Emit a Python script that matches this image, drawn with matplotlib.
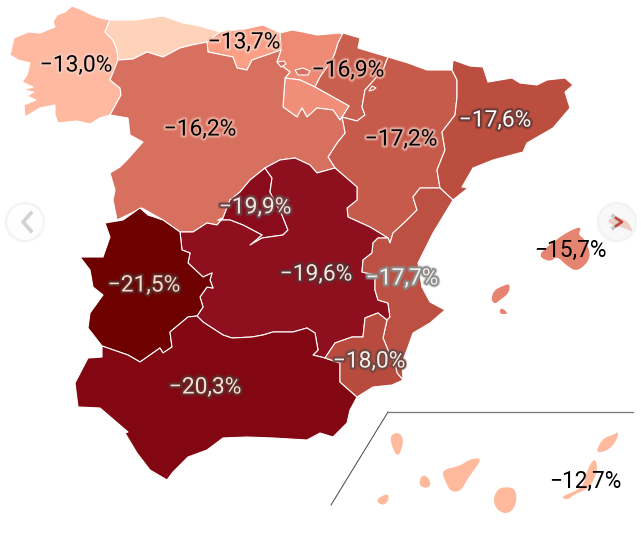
import matplotlib
matplotlib.use("Agg")
import matplotlib.patheffects as pe
import matplotlib.pyplot as plt
from matplotlib.patches import Circle, Polygon

plt.rcParams["font.family"] = ["Roboto", "DejaVu Sans"]

# region values (Asturias has no label on the map)
REGIONS = ["Galicia", "Asturias", "Cantabria", "Pais Vasco", "Navarra", "La Rioja", "Aragon",
           "Cataluna", "Castilla y Leon", "Madrid", "Castilla-La Mancha", "Extremadura",
           "Andalucia", "C. Valenciana", "Murcia", "Baleares", "Canarias"]
VALUES = [-13.0, None, -13.7, -16.9, -16.9, -14.5, -17.2,
          -17.6, -16.2, -19.9, -19.6, -21.5,
          -20.3, -17.7, -18.0, -15.7, -12.7]
COLORS = ["#FFB9A0", "#FFD2BA", "#FA9E86", "#EE8A74", "#C9604F", "#F08E7A", "#C65A4B",
          "#BC4E40", "#D87060", "#8A0C1C", "#8E101E", "#6E0000",
          "#830713", "#BC5042", "#B84B3E", "#E58571", "#FFBA9E"]

SHAPES = {
    "Galicia": [[(72, 6), (80, 9), (90, 14), (100, 18), (110, 20), (105, 32), (113, 40), (117, 50), (118, 60),
                 (110, 80), (120, 88), (121, 95), (110, 115), (100, 118), (90, 124), (77, 121), (58, 123), (55, 115),
                 (55, 105), (40, 108), (25, 117), (24, 105), (36, 100), (27, 96), (34, 92), (23, 90), (33, 87),
                 (22, 82), (27, 75), (30, 63), (18, 60), (10, 55), (14, 38), (28, 32), (40, 33), (55, 27), (53, 22),
                 (57, 15), (65, 12)]],
    "Asturias": [[(110, 20), (135, 20), (163, 16), (183, 23), (200, 26), (220, 32), (207, 42), (192, 45), (180, 48),
                  (163, 57), (147, 52), (133, 59), (118, 60), (117, 50), (113, 40), (105, 32)]],
    "Cantabria": [[(220, 32), (245, 29), (263, 25), (280, 33), (281, 50), (252, 60), (247, 70), (237, 68), (233, 57),
                   (208, 52), (207, 42)]],
    "Pais Vasco": [[(280, 33), (292, 30), (303, 32), (317, 35), (340, 33), (343, 35), (338, 43), (335, 53), (332, 60),
                    (320, 77), (315, 87), (300, 80), (285, 78), (290, 72), (277, 62), (281, 50)]],
    "Navarra": [[(343, 33), (360, 38), (358, 48), (388, 57), (383, 70), (365, 90), (362, 107), (365, 115), (357, 121),
                 (342, 117), (349, 106), (315, 87), (320, 77), (332, 60), (335, 53), (338, 43)]],
    "La Rioja": [[(285, 78), (300, 80), (315, 87), (349, 106), (340, 120), (333, 110), (317, 108), (307, 117),
                  (302, 108), (297, 117), (283, 107)]],
    "Aragon": [[(388, 57), (408, 63), (427, 70), (452, 70), (457, 80), (457, 97), (455, 115), (442, 132), (445, 150),
                (437, 170), (440, 188), (420, 188), (413, 197), (417, 210), (405, 222), (393, 233), (390, 243),
                (388, 238), (370, 227), (348, 217), (347, 208), (357, 200), (357, 187), (335, 168), (328, 157),
                (337, 143), (345, 133), (342, 117), (357, 121), (365, 115), (362, 107), (365, 90), (383, 70)],
               [(369, 91), (372, 86), (376, 88), (373, 90)]],
    "Cataluna": [[(453, 60), (470, 66), (483, 67), (488, 82), (512, 78), (520, 83), (537, 85), (547, 80), (565, 78),
                  (573, 85), (565, 92), (570, 108), (553, 128), (527, 143), (523, 152), (493, 160), (473, 168),
                  (462, 187), (468, 188), (453, 200), (440, 188), (437, 170), (445, 150), (442, 132), (455, 115),
                  (457, 97), (457, 80), (452, 70)]],
    "Castilla y Leon": [[(118, 60), (133, 59), (147, 52), (163, 57), (180, 48), (192, 45), (207, 42), (208, 52),
                         (233, 57), (237, 68), (247, 70), (252, 60), (281, 50), (277, 62), (290, 72), (285, 78),
                         (283, 107), (297, 117), (302, 108), (307, 117), (317, 108), (333, 110), (340, 120), (342, 117),
                         (345, 133), (337, 143), (328, 157), (335, 168), (317, 173), (310, 165), (295, 158), (280, 160),
                         (265, 168), (250, 180), (240, 192), (230, 200), (223, 218), (217, 225), (207, 223), (193, 232),
                         (180, 232), (163, 220), (142, 208), (117, 220), (113, 200), (115, 190), (110, 173), (120, 167),
                         (127, 160), (143, 142), (130, 135), (128, 118), (110, 115), (121, 95), (120, 88), (110, 80)],
                        [(277, 62), (284, 61), (286, 64), (281, 67)],
                        [(295, 70), (303, 68), (310, 71), (308, 75), (298, 75)]],
    "Madrid": [[(265, 168), (272, 178), (270, 192), (282, 215), (288, 230), (283, 235), (262, 238), (250, 245),
                (262, 235), (243, 225), (230, 220), (218, 220), (223, 218), (230, 200), (240, 192), (250, 180)]],
    "Castilla-La Mancha": [[(265, 168), (280, 160), (295, 158), (310, 165), (317, 173), (335, 168), (357, 187),
                            (357, 200), (347, 208), (348, 217), (370, 227), (388, 238), (378, 238), (373, 243),
                            (372, 253), (363, 260), (362, 272), (375, 275), (375, 290), (378, 300), (388, 303),
                            (390, 317), (387, 320), (378, 313), (365, 318), (363, 337), (352, 337), (335, 343),
                            (325, 358), (313, 355), (318, 350), (315, 333), (307, 328), (293, 332), (273, 332),
                            (263, 335), (252, 337), (232, 338), (223, 335), (203, 322), (197, 316), (203, 307),
                            (200, 297), (207, 287), (213, 288), (210, 280), (212, 273), (203, 277), (188, 263),
                            (190, 253), (182, 250), (180, 232), (193, 232), (207, 223), (217, 225), (223, 218),
                            (218, 220), (230, 220), (243, 225), (262, 235), (250, 245), (262, 238), (283, 235),
                            (288, 230), (282, 215), (270, 192), (272, 178)]],
    "Extremadura": [[(140, 208), (148, 215), (163, 220), (180, 232), (182, 250), (190, 253), (188, 263), (203, 277),
                     (212, 273), (210, 280), (213, 288), (207, 287), (200, 297), (203, 307), (197, 316), (188, 317),
                     (170, 332), (172, 347), (163, 353), (160, 348), (140, 362), (128, 355), (102, 346), (88, 328),
                     (90, 313), (103, 295), (93, 287), (90, 270), (80, 257), (103, 257), (110, 237), (105, 223),
                     (123, 220)]],
    "Andalucia": [[(197, 316), (203, 322), (223, 335), (232, 338), (252, 337), (263, 335), (273, 332), (293, 332),
                   (307, 328), (315, 333), (318, 350), (313, 355), (325, 358), (340, 363), (340, 382), (357, 397),
                   (350, 410), (347, 423), (333, 437), (320, 433), (307, 440), (273, 438), (247, 437), (223, 438),
                   (207, 450), (188, 457), (173, 472), (167, 480), (150, 470), (137, 453), (125, 433), (128, 432),
                   (100, 408), (78, 407), (75, 383), (88, 358), (102, 357), (102, 346), (128, 355), (140, 362),
                   (160, 348), (163, 353), (172, 347), (170, 332), (188, 317)]],
    "C. Valenciana": [[(453, 200), (433, 233), (418, 263), (422, 287), (430, 302), (445, 310), (430, 323), (413, 333),
                       (408, 347), (402, 363), (403, 380), (397, 373), (395, 363), (388, 350), (383, 338), (387, 320),
                       (390, 317), (388, 303), (378, 300), (375, 290), (375, 275), (362, 272), (363, 260), (372, 253),
                       (373, 243), (378, 238), (388, 238), (390, 243), (393, 233), (405, 222), (417, 210), (413, 197),
                       (420, 188), (440, 188)]],
    "Murcia": [[(325, 358), (335, 343), (352, 337), (363, 337), (365, 318), (378, 313), (387, 320), (383, 338),
                (388, 350), (395, 363), (397, 373), (403, 380), (392, 385), (373, 387), (357, 397), (340, 382),
                (340, 363)]],
    "Baleares": [[(538, 256), (548, 246), (567, 232), (582, 226), (578, 235), (584, 238), (592, 257), (578, 272),
                  (567, 266), (557, 256), (550, 262)],
                 [(491, 300), (494, 290), (505, 285), (510, 284), (509, 293), (500, 300), (495, 304)],
                 [(499, 314), (501, 307), (509, 314)],
                 [(607, 220), (615, 217), (627, 220), (634, 233), (625, 228), (612, 225)]],
    "Canarias": [[(390, 435), (400, 432), (404, 442), (398, 458), (392, 447)],
                 [(375, 500), (388, 493), (389, 500), (383, 506)],
                 [(419, 482), (422, 475), (428, 477), (431, 484), (428, 488), (421, 487)],
                 [(441, 470), (460, 466), (470, 459), (483, 458), (468, 478), (461, 491), (451, 492), (446, 483)],
                 [(493, 500), (497, 490), (503, 487), (515, 488), (517, 500), (513, 510), (506, 514), (497, 510)],
                 [(560, 497), (583, 488), (587, 470), (595, 457), (598, 470), (590, 488), (573, 495), (568, 500)],
                 [(595, 453), (603, 438), (613, 435), (619, 431), (616, 442), (607, 451)]],
}

LABEL_REGIONS = ["Galicia", "Cantabria", "Navarra", "Castilla y Leon", "Aragon", "Cataluna", "Madrid", "Extremadura",
                 "Castilla-La Mancha", "C. Valenciana", "Andalucia", "Murcia", "Baleares", "Canarias"]
LABEL_XY = [(76, 65), (244, 42), (348, 70), (200, 129), (401, 139), (495, 120), (255, 207), (144, 285),
            (316, 274), (402, 278), (205, 387), (369, 361), (570, 250), (585, 481)]
LABEL_TEXT = ["black", "black", "black", "black", "black", "white", "#F4E4DC", "#FBD9C8",
              "#F8E6DE", "#F8EEE8", "#FBDFD2", "#F8EEE8", "black", "black"]
LABEL_HALO = ["#F8C9B8", "#F8C4B2", "#E8A798", "#E9A797", "#E0A79C", "#6B3A36", "#6B4347", "#5A2A28",
              "#5A3034", "#8A8A8A", "#5E2F2F", "#6E4844", "none", "none"]


def chaikin(part, rounds=2):
    # rounds off the corners, only used on the islands
    for _ in range(rounds):
        new_part = []
        for i, (x0, y0) in enumerate(part):
            x1, y1 = part[(i + 1) % len(part)]
            new_part.append((0.75 * x0 + 0.25 * x1, 0.75 * y0 + 0.25 * y1))
            new_part.append((0.25 * x0 + 0.75 * x1, 0.25 * y0 + 0.75 * y1))
        part = new_part
    return part


def add_button(ax, x, y, alpha):
    for r, a in [(21, 0.03), (20, 0.04), (19, 0.05)]:
        ax.add_patch(Circle((x, y), r, fc="#808080", ec="none", alpha=a, zorder=6))
    ax.add_patch(Circle((x, y), 18, fc="white", ec="none", alpha=alpha, zorder=7))


def main():
    fig = plt.figure(figsize=(6.41, 5.34), dpi=100)
    ax = fig.add_axes([0, 0, 1, 1])
    ax.set_xlim(0, 641)
    ax.set_ylim(534, 0)
    ax.axis("off")

    for region, color in zip(REGIONS, COLORS):
        for part in SHAPES[region]:
            if region in ("Baleares", "Canarias"):
                ax.add_patch(Polygon(chaikin(part), closed=True, fc=color, ec="none", zorder=2))
            else:
                ax.add_patch(Polygon(part, closed=True, fc=color, ec="white", lw=0.8, joinstyle="round", zorder=2))

    # inset frame for the Canaries
    ax.plot([331, 388], [505, 412], color="#444444", lw=0.7, zorder=3)
    ax.plot([388, 633], [412, 412], color="#777777", lw=0.9, zorder=3)

    for region, (x, y), color, halo in zip(LABEL_REGIONS, LABEL_XY, LABEL_TEXT, LABEL_HALO):
        value = VALUES[REGIONS.index(region)]
        label = f"\u2212{abs(value):.1f}%".replace(".", ",")
        text = ax.text(x, y, label, color=color, fontsize=16.4, ha="center", va="center", zorder=5)
        if halo != "none":
            text.set_path_effects([
                pe.withStroke(linewidth=4, foreground=halo, alpha=0.45),
                pe.withStroke(linewidth=2.4, foreground=halo),
            ])

    # carousel arrows on top of the map
    add_button(ax, 25, 222, 0.95)
    ax.plot([31, 23, 31], [213, 222, 231], color="#D2D2D2", lw=2.6, zorder=8)
    add_button(ax, 617, 222, 0.6)
    ax.plot([613, 621, 613], [216, 222, 228], color="#C8C8C8", lw=2.6, zorder=8)
    ax.plot([616, 622, 616], [218, 222, 226], color="#C4473A", lw=1.8, zorder=8)

    fig.savefig("out.png", dpi=100)
    plt.close(fig)


if __name__ == "__main__":
    main()
